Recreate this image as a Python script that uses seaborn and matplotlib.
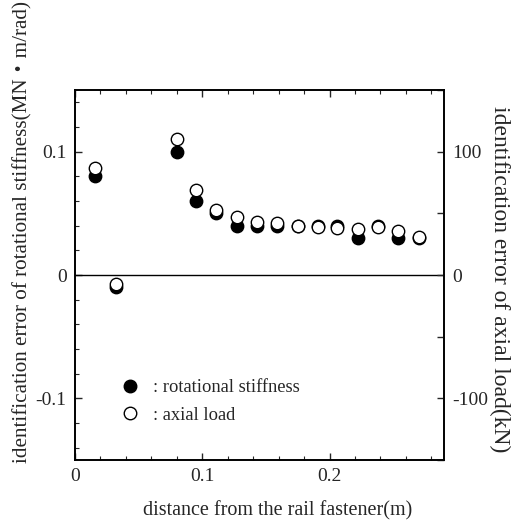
import matplotlib
matplotlib.use("Agg")
import matplotlib.pyplot as plt
from matplotlib.lines import Line2D
from matplotlib.ticker import MultipleLocator, FixedLocator
import seaborn as sns
import pandas as pd

# distance from the rail fastener (m)
distance = [0.016, 0.032, 0.080, 0.095, 0.111, 0.127, 0.143, 0.159,
            0.175, 0.191, 0.206, 0.222, 0.238, 0.254, 0.270]
# identification error of rotational stiffness (MN·m/rad)
rot_error = [0.080, -0.010, 0.100, 0.060, 0.050, 0.040, 0.040, 0.040,
             0.040, 0.040, 0.040, 0.030, 0.040, 0.030, 0.030]
# identification error of axial load (kN)
axial_error = [87, -7, 110, 69, 53, 47, 43, 42, 40, 39, 38, 37, 39, 36, 31]

df = pd.DataFrame({"distance": distance, "rot": rot_error, "axial": axial_error})

sns.set_style("ticks")
plt.rcParams["font.family"] = ["Liberation Serif", "Noto Sans CJK JP"]
plt.rcParams["axes.linewidth"] = 1.2

fig = plt.figure(figsize=(5.11, 5.30), dpi=100)
ax = fig.add_axes([0.1468, 0.132, 0.7222, 0.698])
ax2 = ax.twinx()

sns.scatterplot(data=df, x="distance", y="rot", ax=ax, marker="o", s=80,
                color="black", edgecolor="black", linewidth=1.0, zorder=3)
sns.scatterplot(data=df, x="distance", y="axial", ax=ax2, marker="o", s=80,
                color="white", edgecolor="black", linewidth=1.0, zorder=4)

ax.axhline(0, color="black", lw=1.0, zorder=1)

ax.set_xlim(0, 0.29)
ax.set_ylim(-0.15, 0.15)
ax2.set_ylim(-150, 150)

ax.xaxis.set_major_locator(FixedLocator([0, 0.1, 0.2]))
ax.xaxis.set_minor_locator(MultipleLocator(0.02))
ax.set_xticklabels(["0", "0.1", "0.2"])
ax.yaxis.set_major_locator(FixedLocator([-0.1, 0, 0.1]))
ax.yaxis.set_minor_locator(MultipleLocator(0.02))
ax.set_yticklabels(["-0.1", "0", "0.1"])
ax2.yaxis.set_major_locator(FixedLocator([-100, 0, 100]))
ax2.yaxis.set_minor_locator(FixedLocator([-150, -50, 50, 150]))
ax2.set_yticklabels(["-100", "0", "100"])

ax.tick_params(axis="x", which="both", direction="in", top=True, bottom=True,
               labelsize=14, pad=6)
ax.tick_params(axis="y", which="both", direction="in", left=True, right=False,
               labelsize=14, pad=6)
ax.tick_params(which="major", length=5, width=1.0)
ax.tick_params(which="minor", length=3, width=0.8)
ax2.tick_params(axis="y", which="both", direction="in", labelsize=14, pad=6,
                length=5, width=1.0)

ax.set_xlabel("distance from the rail fastener(m)", fontsize=14.5)
ax.xaxis.set_label_coords(0.55, -0.136)
ax.xaxis.label.set_va("center")

ax.set_ylabel("identification error of rotational stiffness(MN・m/rad)",
              fontsize=15.2)
ax.yaxis.set_label_coords(-0.142, 0.616)
ax.yaxis.label.set_va("center")

ax2.set_ylabel("identification error of axial load(kN)", fontsize=17,
               rotation=-90)
ax2.yaxis.set_label_coords(1.150, 0.49)
ax2.yaxis.label.set_va("center")

handles = [
    Line2D([], [], marker="o", linestyle="none", markersize=9,
           markerfacecolor="black", markeredgecolor="black"),
    Line2D([], [], marker="o", linestyle="none", markersize=9,
           markerfacecolor="white", markeredgecolor="black"),
]
ax.legend(handles, [": rotational stiffness", ": axial load"],
          loc="upper left", bbox_to_anchor=(0.1, 0.243), frameon=False,
          fontsize=13.3, handlelength=1.0, handletextpad=0.7, labelspacing=0.55,
          borderpad=0.0)

for a in (ax, ax2):
    for s in a.spines.values():
        s.set_linewidth(1.2)
        s.set_color("black")

fig.savefig("out.png", dpi=100)
